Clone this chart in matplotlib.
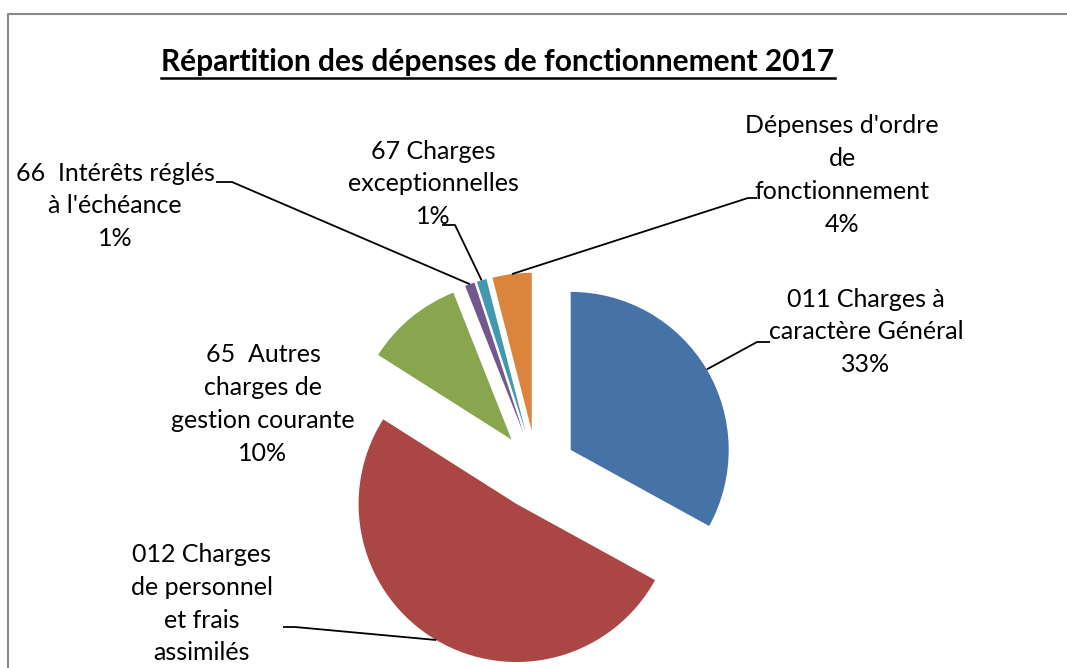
import matplotlib
matplotlib.use("Agg")
import matplotlib.pyplot as plt
import numpy as np

# ---------------- data ----------------
categories = [
    "011 Charges à\ncaractère Général",
    "012 Charges\nde personnel\net frais\nassimilés",
    "65  Autres\ncharges de\ngestion courante",
    "66  Intérêts réglés\nà l'échéance",
    "67 Charges\nexceptionnelles",
    "Dépenses d'ordre\nde\nfonctionnement",
]
values = [33, 51, 10, 1, 1, 4]
colors = ["#4572A7", "#AA4643", "#89A54E", "#71588F", "#4198AF", "#DB843D"]
title = "Répartition des dépenses de fonctionnement 2017"

# ---------------- layout (pixels of a 1067x668 canvas) ----------------
W, H = 1067, 668
CX, CY, R = 536.7, 470.0, 158.0   # pie centre / radius in pixels


def px(x, y):
    """pixel (from top-left) -> data coords (pie radius = 1)"""
    return (x - CX) / R, (CY - y) / R


fig = plt.figure(figsize=(W / 100, H / 100), dpi=100)
ax = fig.add_axes([0, 0, 1, 1])

wedges, _ = ax.pie(values, colors=colors, startangle=90, counterclock=False,
                   explode=[0.25] * len(values), radius=1,
                   wedgeprops=dict(linewidth=0))
ax.set_aspect("auto")
ax.set_xlim(-CX / R, (W - CX) / R)
ax.set_ylim(-(H - CY) / R, CY / R)
ax.axis("off")

FONT = "Lato"
FS = 18

# label text centres and leader elbows (pixels)
label_pos = [(866, 332), (202, 620), (263, 404), (115, 206), (433, 184), (842, 175)]
elbows = [
    [(757, 342), (770, 342)],
    [(295, 627), (283, 627)],
    None,
    [(232, 182), (216, 182)],
    [(455, 225), (442, 225)],
    [(748, 198), (757, 198)],
]

total = sum(values)
for w, cat, v, (lx, ly), elb in zip(wedges, categories, values, label_pos, elbows):
    pct = f"{round(100 * v / total)}%"
    tx, ty = px(lx, ly)
    ax.text(tx, ty, f"{cat}\n{pct}", ha="center", va="center",
            multialignment="center", fontsize=FS, family=FONT,
            linespacing=1.52, color="black")
    if elb is not None:
        th = np.deg2rad((w.theta1 + w.theta2) / 2)
        sx = w.center[0] + w.r * np.cos(th)
        sy = w.center[1] + w.r * np.sin(th)
        pts = [(sx, sy)] + [px(*p) for p in elb]
        xs, ys = zip(*pts)
        ax.plot(xs, ys, color="black", lw=1.3, solid_capstyle="butt")

# title with underline
t = ax.text(*px(498, 62), title, ha="center", va="center", fontsize=21.5,
            fontweight="bold", family=FONT)
fig.canvas.draw()
bb = t.get_window_extent()
uy = bb.y0 - 2
fig.add_artist(plt.Line2D([bb.x0 / W, bb.x1 / W], [uy / H, uy / H],
                          color="black", lw=1.8, transform=fig.transFigure))

# outer frame (partially cut off on the right/bottom)
fig.add_artist(plt.Line2D([8 / W, 8 / W, 1.0], [0, 1 - 14 / H, 1 - 14 / H],
                          color="#8a8a8a", lw=1.5, transform=fig.transFigure))

fig.savefig("out.png", dpi=100)
